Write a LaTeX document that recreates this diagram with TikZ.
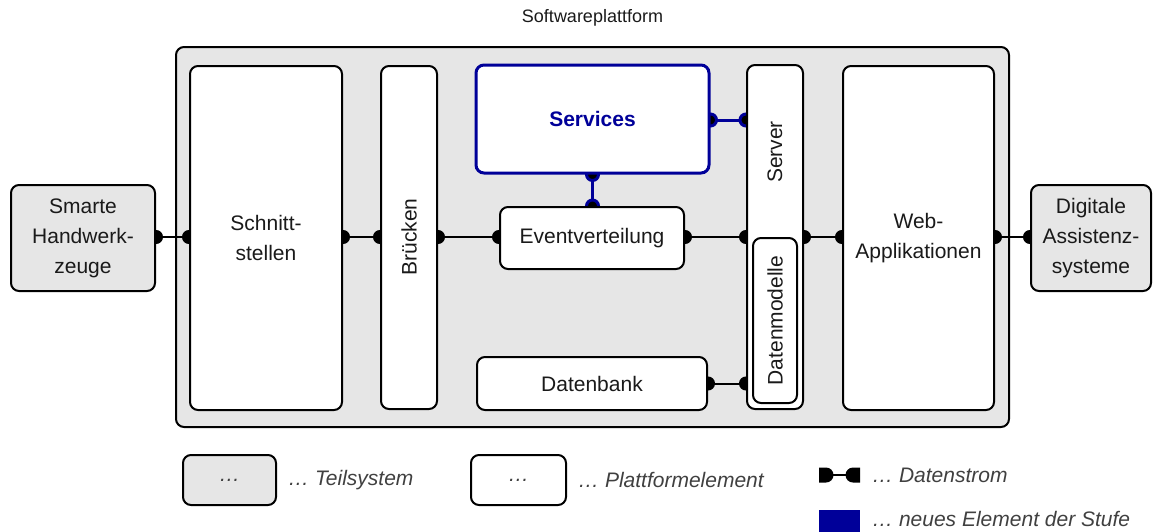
\documentclass[tikz,border=0pt]{standalone}
\usepackage{fontspec}
\setmainfont{Liberation Sans}
\pgfdeclarelayer{bg}
\pgfdeclarelayer{mid}
\pgfsetlayers{bg,mid,main}
\definecolor{pgray}{HTML}{E6E6E6}
\definecolor{nblue}{HTML}{000099}
\definecolor{txt}{HTML}{1A1A1A}
\definecolor{ltxt}{HTML}{404040}
\tikzset{
  box/.style={draw=black, line width=2pt, rounded corners=8pt, fill=white, inner sep=0pt,
    font=\fontsize{21}{30}\selectfont, text=txt, align=center},
  sub/.style={box, fill=pgray},
  newbox/.style={box, draw=nblue, line width=3pt, text=nblue, font=\fontsize{21}{30}\selectfont\bfseries},
  lbl/.style={font=\fontsize{21}{30}\selectfont, text=txt, inner sep=0pt},
  leg/.style={font=\fontsize{21}{30}\selectfont\itshape, text=ltxt, inner sep=0pt, anchor=west},
  flow/.style={line width=2pt, draw=black},
  bflow/.style={line width=3pt, draw=nblue},
}
\newcommand\conn[3]{%
  \draw[#1] (#2) -- (#3);
  \fill[#1] (#2) circle[radius=6];
  \fill[#1] (#3) circle[radius=6];}
\begin{document}
\begin{tikzpicture}[x=1pt,y=-1pt]
\useasboundingbox (0,0) rectangle (1162,531);
% title
\node[lbl, font=\fontsize{18}{22}\selectfont] (title) at (592.5,18) {Softwareplattform};
% platform
\begin{pgfonlayer}{bg}
\node[sub, minimum width=833, minimum height=380] (plat) at (592.5,237) {};
\end{pgfonlayer}
% outer subsystems
\node[sub, minimum width=144, minimum height=106] (smarte) at (83,238) {Smarte\\Handwerk-\\zeuge};
\node[sub, minimum width=120, minimum height=106] (digit) at (1091,238) {Digitale\\Assistenz-\\systeme};
% platform elements
\node[box, minimum width=152, minimum height=344] (schn) at (266,238) {Schnitt-\\stellen};
\node[box, minimum width=56, minimum height=343] (bruck) at (409,237.5) {};
\node[lbl, rotate=90] (brucktxt) at (409,237) {Brücken};
\node[newbox, minimum width=233, minimum height=108] (serv) at (592.5,119) {Services};
\node[box, minimum width=184, minimum height=62] (event) at (592,238) {Eventverteilung};
\node[box, minimum width=230, minimum height=53] (dbank) at (592,383.5) {Datenbank};
\node[box, minimum width=56, minimum height=344] (server) at (775,237) {};
\node[lbl, rotate=90] (servertxt) at (775,152) {Server};
\node[box, minimum width=44, minimum height=165] (dmod) at (775,320.5) {};
\node[lbl, rotate=90] (dmodtxt) at (dmod) {Datenmodelle};
\node[box, minimum width=151, minimum height=344] (web) at (918.5,238) {Web-\\Applikationen};
% connectors
\coordinate (row) at (0,237);
\coordinate (srow) at (0,120);
\begin{pgfonlayer}{mid}
\conn{flow}{smarte.east |- row}{schn.west |- row}
\conn{flow}{schn.east |- row}{bruck.west |- row}
\conn{flow}{bruck.east |- row}{event.west |- row}
\conn{flow}{event.east |- row}{server.west |- row}
\conn{flow}{server.east |- row}{web.west |- row}
\conn{flow}{web.east |- row}{digit.west |- row}
\conn{flow}{dbank.east}{server.west |- dbank.east}
\conn{bflow}{serv.east |- srow}{server.west |- srow}
\conn{bflow}{serv.south}{serv.south |- event.north}
\end{pgfonlayer}
% legend
\node[sub, minimum width=93, minimum height=50] (legsub) at (229.5,480) {\itshape\color{ltxt}…};
\node[leg] (legsubtxt) at (288,480) {… Teilsystem};
\node[box, minimum width=95, minimum height=50] (legbox) at (518.5,480) {\itshape\color{ltxt}…};
\node[leg] (legboxtxt) at (578,480) {… Plattformelement};
\fill (819,467.5) -- (826,467.5) arc[start angle=-90, end angle=90, radius=7.5] -- (819,482.5) -- cycle;
\fill (860,467.5) -- (853,467.5) arc[start angle=-90, end angle=-270, radius=7.5] -- (860,482.5) -- cycle;
\draw[line width=2pt] (830,475) -- (850,475);
\node[leg] (legflow) at (872,475) {… Datenstrom};
\fill[nblue] (819,510) rectangle (860,533);
\node[leg, anchor=base west] (legnew) at (872,526) {… neues Element der Stufe};
\end{tikzpicture}
\end{document}
